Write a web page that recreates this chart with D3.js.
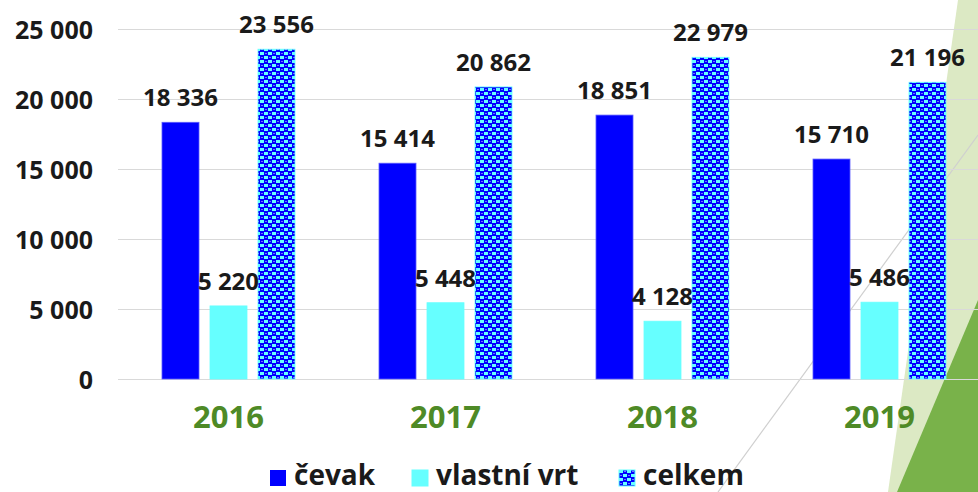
<!DOCTYPE html>
<html>
<head>
<meta charset="utf-8">
<script src="https://cdn.jsdelivr.net/npm/d3@7"></script>
<style>
  html, body { margin: 0; padding: 0; background: #fff; }
  svg { display: block; }
  text { font-family: "Open Sans", "DejaVu Sans", sans-serif; }
</style>
</head>
<body>
<svg id="chart" width="978" height="492"></svg>
<script>
// ---- data ----
const years = ["2016", "2017", "2018", "2019"];
const seriesNames = ["čevak", "vlastní vrt", "celkem"];
const cevak = [18336, 15414, 18851, 15710];
const vlastniVrt = [5220, 5448, 4128, 5486];
const celkem = [23556, 20862, 22979, 21196];
const yTicks = [0, 5000, 10000, 15000, 20000, 25000];

const seriesValues = [cevak, vlastniVrt, celkem];

const W = 978, H = 492;
const svg = d3.select("#chart");

const loc = d3.formatLocale({ decimal: ",", thousands: " ", grouping: [3], currency: ["", ""] });
const fmt = loc.format(",d");

// ---- decorations (background) ----
const deco = svg.append("g");
deco.append("polygon")
  .attr("points", "958,0 978,0 978,492 888,492")
  .attr("fill", "#dce9c4");
deco.append("polygon")
  .attr("points", "978,300 978,492 897,492")
  .attr("fill", "#79b24a");
deco.append("line")
  .attr("x1", 978).attr("y1", 135).attr("x2", 718).attr("y2", 492)
  .attr("stroke", "#cfcfcf").attr("stroke-width", 1.2);

// ---- pattern ----
const defs = svg.append("defs");
const pat = defs.append("pattern")
  .attr("id", "checker")
  .attr("patternUnits", "userSpaceOnUse")
  .attr("width", 8).attr("height", 8);
pat.append("rect").attr("width", 8).attr("height", 8).attr("fill", "#0000ff");
pat.append("rect").attr("x", 0).attr("y", 0).attr("width", 4).attr("height", 3).attr("fill", "#66ffff");
pat.append("rect").attr("x", 4).attr("y", 4).attr("width", 4).attr("height", 3).attr("fill", "#66ffff");
pat.append("rect").attr("x", 5).attr("y", 1).attr("width", 2).attr("height", 1).attr("fill", "#7070ff");
pat.append("rect").attr("x", 1).attr("y", 5).attr("width", 2).attr("height", 1).attr("fill", "#7070ff");

// ---- scales ----
const x = d3.scaleBand().domain(years).range([120, 988]).padding(0);
const groupW = 133;
const x1 = d3.scaleBand().domain(seriesNames)
  .range([(x.bandwidth() - groupW) / 2, (x.bandwidth() + groupW) / 2])
  .paddingInner(11 / 48).paddingOuter(0);
const y = d3.scaleLinear().domain([0, 25000]).range([379, 29]);

const fills = { "čevak": "#0000ff", "vlastní vrt": "#66ffff", "celkem": "url(#checker)" };
const strokes = { "čevak": "#5a5aff", "vlastní vrt": "#66ffff", "celkem": "#66ffff" };

// ---- gridlines ----
svg.append("g").selectAll("line").data(yTicks).join("line")
  .attr("x1", 118).attr("x2", W)
  .attr("y1", d => Math.round(y(d)) + 0.5).attr("y2", d => Math.round(y(d)) + 0.5)
  .attr("stroke", "#d9d9d9").attr("stroke-width", 1);

// ---- y axis labels ----
const yAxis = svg.append("g").attr("transform", "translate(118,0)")
  .call(d3.axisLeft(y).tickValues(yTicks).tickSize(0).tickPadding(25).tickFormat(fmt));
yAxis.select(".domain").remove();
yAxis.selectAll("text")
  .attr("font-family", "Open Sans, DejaVu Sans, sans-serif")
  .attr("font-size", 25).attr("font-weight", 700).attr("fill", "#1a1a1a")
  .attr("dy", "0.36em");

// ---- x axis labels ----
const xAxis = svg.append("g").attr("transform", "translate(0,379)")
  .call(d3.axisBottom(x).tickSize(0).tickPadding(0));
xAxis.select(".domain").remove();
xAxis.selectAll("text")
  .attr("font-family", "Open Sans, DejaVu Sans, sans-serif")
  .attr("font-size", 31).attr("font-weight", 700).attr("fill", "#4e8a26")
  .attr("dy", null).attr("y", 49);

// ---- bars ----
const rows = [];
years.forEach((yr, i) => seriesNames.forEach((s, j) => rows.push({ year: yr, series: s, value: seriesValues[j][i] })));

const bars = svg.append("g");
bars.selectAll("rect").data(rows).join("rect")
  .attr("x", d => x(d.year) + x1(d.series))
  .attr("width", x1.bandwidth())
  .attr("y", d => y(d.value))
  .attr("height", d => y(0) - y(d.value))
  .attr("fill", d => fills[d.series])
  .attr("stroke", d => strokes[d.series])
  .attr("stroke-width", 0.8);

// ---- data labels ----
svg.append("g").selectAll("text").data(rows).join("text")
  .attr("x", d => x(d.year) + x1(d.series) + x1.bandwidth() / 2)
  .attr("y", d => y(d.value) - 16)
  .attr("text-anchor", "middle")
  .attr("font-size", 24).attr("font-weight", 700).attr("fill", "#1a1a1a")
  .text(d => fmt(d.value));

// ---- legend ----
const legendX = [270, 412, 619];
const legend = svg.append("g");
seriesNames.forEach((s, i) => {
  const g = legend.append("g").attr("transform", `translate(${legendX[i]},470)`);
  g.append("rect").attr("width", 16).attr("height", 16)
    .attr("fill", fills[s]).attr("stroke", s === "čevak" ? "none" : "#66ffff").attr("stroke-width", 1);
  g.append("text").attr("x", 24).attr("y", 15)
    .attr("font-size", 28).attr("font-weight", 700).attr("fill", "#1a1a1a")
    .text(s);
});
</script>
</body>
</html>
